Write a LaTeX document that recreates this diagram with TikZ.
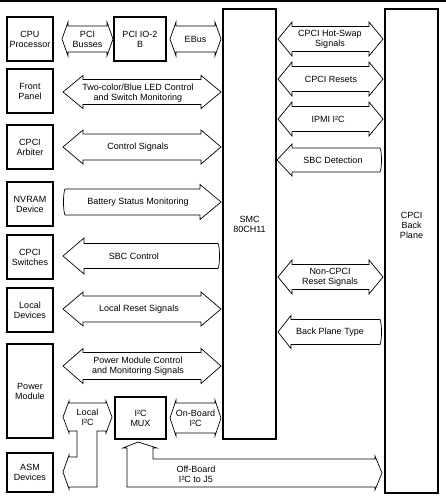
\documentclass[tikz,border=0pt]{standalone}
\usepackage{fontspec}
\setmainfont{Liberation Sans}
\newcommand{\DblArrow}[6]{% x1, x2, yc, s, h, L
\draw[arr] (#1,#3) -- ({#1+#6},{#3-#5}) -- ({#1+#6},{#3-#4}) -- ({#2-#6},{#3-#4}) -- ({#2-#6},{#3-#5}) -- (#2,#3) -- ({#2-#6},{#3+#5}) -- ({#2-#6},{#3+#4}) -- ({#1+#6},{#3+#4}) -- ({#1+#6},{#3+#5}) -- cycle;}
\newcommand{\RArrow}[6]{% x0 flat, x2 tip, yc, s, h, L
\draw[arr] (#2,#3) -- ({#2-#6},{#3+#5}) -- ({#2-#6},{#3+#4}) -- ({#1+2},{#3+#4}) .. controls (#1,{#3+#4-4}) and (#1,{#3-#4+4}) .. ({#1+2},{#3-#4}) -- ({#2-#6},{#3-#4}) -- ({#2-#6},{#3-#5}) -- cycle;}
\newcommand{\LArrow}[6]{% x1 tip, x2 flat, yc, s, h, L
\draw[arr] (#1,#3) -- ({#1+#6},{#3-#5}) -- ({#1+#6},{#3-#4}) -- ({#2-2},{#3-#4}) .. controls (#2,{#3-#4+4}) and (#2,{#3+#4-4}) .. ({#2-2},{#3+#4}) -- ({#1+#6},{#3+#4}) -- ({#1+#6},{#3+#5}) -- cycle;}
\begin{document}
\begin{tikzpicture}[x=1pt,y=-1pt,
  arr/.style={draw=black, line width=0.7pt, line join=miter},
  box/.style={draw=black, line width=2pt, align=center, inner sep=0pt, font=\fontsize{9}{10}\selectfont},
  lbl/.style={align=center, inner sep=0pt, font=\fontsize{9}{10}\selectfont}]
\useasboundingbox (0,0) rectangle (446,500);
\draw[line width=2pt] (0,1) -- (446,1);

% boxes
\node[box, minimum width=46pt, minimum height=44pt] (cpu) at (30,39) {CPU\\Processor};
\node[box, minimum width=52pt, minimum height=44pt] (pcio) at (140,39) {PCI IO-2\\B};
\node[box, minimum width=46pt, minimum height=44pt] (front) at (30,91) {Front\\Panel};
\node[box, minimum width=46pt, minimum height=44pt] (arb) at (30,147) {CPCI\\Arbiter};
\node[box, minimum width=46pt, minimum height=44pt] (nvram) at (30,204) {NVRAM\\Device};
\node[box, minimum width=46pt, minimum height=44pt] (sw) at (30,257) {CPCI\\Switches};
\node[box, minimum width=46pt, minimum height=44pt] (locdev) at (30,310) {Local\\Devices};
\node[box, minimum width=46pt, minimum height=94pt] (power) at (30,391) {Power\\Module};
\node[box, minimum width=46pt, minimum height=39pt] (asm) at (30,472.5) {ASM\\Devices};
\node[box, minimum width=51pt, minimum height=42pt] (mux) at (140.5,418) {I²C\\MUX};
\node[box, minimum width=53pt, minimum height=430pt] (smc) at (249.5,224) {SMC\\80CH11};
\node[box, minimum width=53pt, minimum height=484pt] (bp) at (411.5,251) {};
\node[lbl] (bplbl) at (411.5,225) {CPCI\\Back\\Plane};

% left column arrows
\DblArrow{62}{113}{39}{13}{17}{6}
\node[lbl] (pcib) at (87.5,39) {PCI\\Busses};
\DblArrow{170}{221}{39}{13}{17}{6}
\node[lbl] (ebus) at (195.5,39) {EBus};
\DblArrow{63}{221}{92}{12.5}{16.5}{20}
\node[lbl] (led) at (138,93) {Two-color/Blue LED Control\\and Switch Monitoring};
\DblArrow{63}{221}{147}{13}{17}{20}
\node[lbl] (ctl) at (138,147) {Control Signals};
\RArrow{63}{221}{202}{13}{17.5}{21}
\node[lbl] (bat) at (138,202) {Battery Status Monitoring};
\LArrow{63}{220}{256}{12.5}{18}{21}
\node[lbl] (sbcc) at (134,256) {SBC Control};
\DblArrow{63}{221}{309}{13}{17}{20}
\node[lbl] (lrs) at (139,309) {Local Reset Signals};
\DblArrow{63}{221}{366}{13.5}{17.5}{20}
\node[lbl] (pmc) at (138,366) {Power Module Control\\and Monitoring Signals};

% right column arrows
\DblArrow{278}{383}{39}{12.5}{17}{14}
\node[lbl] (hs) at (330,39) {CPCI Hot-Swap\\Signals};
\DblArrow{278}{383}{79}{12.5}{17}{14}
\node[lbl] (cres) at (331,79) {CPCI Resets};
\DblArrow{278}{383}{119}{12.5}{17}{14}
\node[lbl] (ipmi) at (328,119) {IPMI I²C};
\LArrow{277}{382}{160}{12}{16}{15}
\node[lbl] (sbcd) at (333,160) {SBC Detection};
\DblArrow{278}{383}{277}{12.5}{17}{14}
\node[lbl] (ncr) at (330,277) {Non-CPCI\\Reset Signals};
\LArrow{278}{382}{332}{12.5}{16.5}{13}
\node[lbl] (bpt) at (330,332) {Back Plane Type};

% bottom I2C arrows
\draw[arr] (63,417) -- (69,401) -- (69,403) -- (106,403) -- (106,401) -- (112,417) -- (106,433) -- (106,431) -- (97,431) -- (97,487) -- (69,487) -- (69,489) -- (63,472) -- (69,455) -- (69,457) -- (77,457) -- (77,431) -- (69,431) -- (69,433) -- cycle;
\node[lbl] (loci2c) at (87.5,417) {Local\\I²C};
\DblArrow{170}{221}{418}{15}{18}{6}
\node[lbl] (onb) at (195.5,418) {On-Board\\I²C};
\draw[arr] (138,442) -- (157,448) -- (153,448) -- (153,459) -- (375,459) -- (375,456) -- (382,473) -- (375,490) -- (375,487) -- (127,487) -- (127,448) -- (123,448) -- cycle;
\node[lbl] (offb) at (196,474) {Off-Board\\I²C to J5};
\end{tikzpicture}
\end{document}
